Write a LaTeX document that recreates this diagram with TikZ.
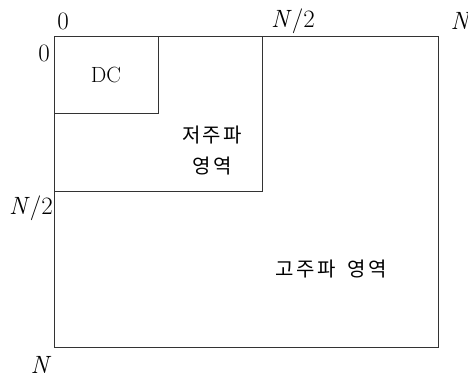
\documentclass[tikz,border=0pt]{standalone}
\usepackage{fontspec}
\newfontfamily\kr[LetterSpace=12]{Noto Sans CJK KR}
\begin{document}
\begin{tikzpicture}[x=1pt,y=-1pt,
  region/.style={draw=black!80,line width=0.8pt},
  lbl/.style={inner sep=0pt,font=\fontsize{25}{28}\selectfont},
  krl/.style={inner sep=0pt,font=\kr\fontsize{20}{31}\selectfont,align=center}]
\useasboundingbox (0,0) rectangle (468,377);
\draw[region] (54,36) rectangle (438,347);
\draw[region] (54,36) rectangle (262,191);
\draw[region] (54,36) rectangle (158,113);
\node[lbl] (x0) at (63,21) {0};
\node[lbl] (xh) at (293,21) {\textit{N}/2};
\node[lbl] (xn) at (461,21) {\textit{N}};
\node[lbl] (y0) at (44,53) {0};
\node[lbl] (yh) at (31,208) {\textit{N}/2};
\node[lbl] (yn) at (41,365) {\textit{N}};
\node[inner sep=0pt,font=\fontsize{22}{26}\selectfont] (dc) at (106,75) {DC};
\node[krl] (low) at (212,151) {저주파\\영역};
\node[krl] (high) at (331,269) {고주파\hspace{12pt}영역};
\end{tikzpicture}
\end{document}
